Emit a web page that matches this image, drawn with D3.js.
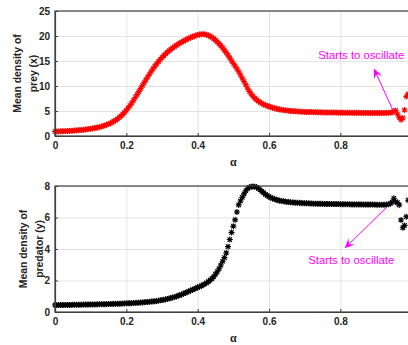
<!DOCTYPE html>
<html>
<head>
<meta charset="utf-8">
<script src="https://cdn.jsdelivr.net/npm/d3@7"></script>
<style>
  body { margin: 0; background: #fff; }
  svg { display: block; }
  text { font-family: "Liberation Sans", Arial, sans-serif; }
</style>
</head>
<body>
<div id="container"></div>
<script>
let w = 408;
let h = 345;

// alpha grid (x values)
let alpha = [
  0.000,0.005,0.010,0.015,0.020,0.025,0.030,0.035,0.040,0.045,
  0.050,0.055,0.060,0.065,0.070,0.075,0.080,0.085,0.090,0.095,
  0.100,0.105,0.110,0.115,0.120,0.125,0.130,0.135,0.140,0.145,
  0.150,0.155,0.160,0.165,0.170,0.175,0.180,0.185,0.190,0.195,
  0.200,0.205,0.210,0.215,0.220,0.225,0.230,0.235,0.240,0.245,
  0.250,0.255,0.260,0.265,0.270,0.275,0.280,0.285,0.290,0.295,
  0.300,0.305,0.310,0.315,0.320,0.325,0.330,0.335,0.340,0.345,
  0.350,0.355,0.360,0.365,0.370,0.375,0.380,0.385,0.390,0.395,
  0.400,0.405,0.410,0.415,0.420,0.425,0.430,0.435,0.440,0.445,
  0.450,0.455,0.460,0.465,0.470,0.475,0.480,0.485,0.490,0.495,
  0.500,0.505,0.510,0.515,0.520,0.525,0.530,0.535,0.540,0.545,
  0.550,0.555,0.560,0.565,0.570,0.575,0.580,0.585,0.590,0.595,
  0.600,0.605,0.610,0.615,0.620,0.625,0.630,0.635,0.640,0.645,
  0.650,0.655,0.660,0.665,0.670,0.675,0.680,0.685,0.690,0.695,
  0.700,0.705,0.710,0.715,0.720,0.725,0.730,0.735,0.740,0.745,
  0.750,0.755,0.760,0.765,0.770,0.775,0.780,0.785,0.790,0.795,
  0.800,0.805,0.810,0.815,0.820,0.825,0.830,0.835,0.840,0.845,
  0.850,0.855,0.860,0.865,0.870,0.875,0.880,0.885,0.890,0.895,
  0.900,0.905,0.910,0.915,0.920,0.925,0.930,0.935,0.940,0.945,
  0.950,0.955,0.960,0.965,0.970,0.975,0.980,0.985,0.990
];

// mean density of prey (x)
let prey = [
  0.90,0.91,0.92,0.93,0.95,0.96,0.98,1.00,1.02,1.04,
  1.06,1.09,1.12,1.15,1.18,1.22,1.26,1.30,1.35,1.40,
  1.45,1.51,1.57,1.64,1.72,1.80,1.90,2.00,2.12,2.25,
  2.39,2.55,2.73,2.93,3.15,3.40,3.68,4.00,4.35,4.73,
  5.15,5.60,6.08,6.60,7.14,7.70,8.28,8.87,9.47,10.07,
  10.67,11.26,11.84,12.40,12.94,13.46,13.96,14.43,14.88,15.30,
  15.70,16.07,16.42,16.75,17.06,17.35,17.62,17.88,18.12,18.35,
  18.57,18.78,18.98,19.17,19.35,19.52,19.68,19.83,19.97,20.10,
  20.22,20.30,20.35,20.36,20.33,20.25,20.12,19.94,19.72,19.46,
  19.16,18.83,18.46,18.06,17.63,17.17,16.68,16.16,15.62,15.05,
  14.50,14.00,13.45,12.85,12.20,11.55,10.90,10.22,9.55,8.92,
  8.40,7.95,7.58,7.25,6.97,6.72,6.50,6.32,6.16,6.02,
  5.90,5.78,5.66,5.56,5.47,5.39,5.32,5.26,5.20,5.15,
  5.10,5.06,5.02,4.99,4.96,4.93,4.90,4.88,4.86,4.84,
  4.82,4.81,4.80,4.79,4.78,4.77,4.76,4.75,4.74,4.73,
  4.72,4.72,4.71,4.70,4.70,4.69,4.69,4.68,4.68,4.67,
  4.67,4.66,4.66,4.65,4.65,4.65,4.64,4.64,4.64,4.63,
  4.63,4.63,4.62,4.62,4.62,4.62,4.61,4.61,4.61,4.61,
  4.61,4.61,4.61,4.61,4.62,4.62,4.63,4.64,4.66,4.72,
  4.95,5.10,4.40,3.70,3.25,3.60,5.20,7.90,8.40
];

// mean density of predator (y)
let predator = [
  0.44,0.44,0.44,0.44,0.44,0.45,0.45,0.45,0.45,0.45,
  0.46,0.46,0.46,0.46,0.46,0.46,0.47,0.47,0.47,0.47,
  0.48,0.48,0.48,0.48,0.49,0.49,0.49,0.50,0.50,0.50,
  0.51,0.51,0.51,0.52,0.52,0.52,0.53,0.53,0.54,0.54,
  0.55,0.55,0.56,0.56,0.57,0.57,0.58,0.59,0.60,0.61,
  0.62,0.63,0.64,0.65,0.66,0.67,0.69,0.70,0.72,0.74,
  0.76,0.78,0.80,0.83,0.86,0.89,0.92,0.95,0.99,1.03,
  1.07,1.11,1.16,1.21,1.26,1.31,1.36,1.41,1.46,1.51,
  1.56,1.61,1.66,1.72,1.78,1.85,1.93,2.02,2.12,2.24,
  2.40,2.56,2.75,2.98,3.22,3.45,3.75,4.15,4.60,5.05,
  5.45,5.85,6.35,6.80,7.05,7.28,7.50,7.70,7.84,7.92,
  7.95,7.97,7.96,7.92,7.85,7.76,7.66,7.56,7.47,7.39,
  7.32,7.26,7.21,7.17,7.13,7.10,7.07,7.05,7.03,7.01,
  6.99,6.98,6.97,6.96,6.95,6.94,6.93,6.93,6.92,6.91,
  6.91,6.90,6.90,6.89,6.89,6.88,6.88,6.88,6.87,6.87,
  6.87,6.86,6.86,6.86,6.86,6.85,6.85,6.85,6.85,6.85,
  6.84,6.84,6.84,6.84,6.84,6.84,6.83,6.83,6.83,6.83,
  6.83,6.83,6.83,6.82,6.82,6.82,6.82,6.82,6.82,6.82,
  6.81,6.81,6.81,6.81,6.81,6.81,6.82,6.84,6.88,6.98,
  7.22,7.00,6.95,6.80,5.84,5.35,5.50,6.05,7.10
];

let xTicks = [0, 0.2, 0.4, 0.6, 0.8];
let preyTicks = [0, 5, 10, 15, 20, 25];
let predTicks = [0, 2, 4, 6, 8];
let noteText = "Starts to oscillate";

// annotation anchors in data units [alpha, value]
let preyNote = { text: [0.738, 16.2], tail: [0.948, 5.06], head: [0.894, 13.5] };
let predNote = { text: [0.710, 3.3], tail: [0.930, 6.65], head: [0.812, 4.04] };

let viz = d3.select("#container").append("svg")
    .attr("width", w)
    .attr("height", h)
;

let axisColor = "#404040";
let gridColor = "#e3e3e3";
let magenta = "#ff00ff";

// MATLAB style '*' marker
let star = "M-3,0H3M0,-3V3M-2.2,-2.2L2.2,2.2M-2.2,2.2L2.2,-2.2";

function panel(opt){
  let x = d3.scaleLinear().domain([0, 1]).range([55, 411.7]);
  let y = d3.scaleLinear().domain(opt.yDomain).range([opt.bottom, opt.top]);
  let g = viz.append("g");

  // grid
  g.append("g")
    .attr("transform", "translate(0," + opt.bottom + ")")
    .call(d3.axisBottom(x).tickValues(xTicks).tickSize(-(opt.bottom - opt.top)).tickFormat(""))
    .call(s => s.select(".domain").remove())
    .selectAll("line").attr("stroke", gridColor);
  g.append("g")
    .attr("transform", "translate(55,0)")
    .call(d3.axisLeft(y).tickValues(opt.yTicks).tickSize(-(411.7 - 55)).tickFormat(""))
    .call(s => s.select(".domain").remove())
    .selectAll("line").attr("stroke", gridColor);

  // data
  g.append("g").selectAll("path").data(alpha).enter()
    .append("path")
      .attr("d", star)
      .attr("transform", (d, i) => "translate(" + x(d) + "," + y(opt.values[i]) + ")")
      .attr("stroke", opt.color)
      .attr("stroke-width", 1.1)
      .attr("fill", "none");

  // box
  g.append("rect")
    .attr("x", 55).attr("y", opt.top)
    .attr("width", 411.7 - 55).attr("height", opt.bottom - opt.top)
    .attr("fill", "none").attr("stroke", axisColor).attr("stroke-width", 1.2);

  // axes with inward ticks
  let fmt = d => d === 0 ? "0" : String(d);
  let xa = g.append("g")
    .attr("transform", "translate(0," + opt.bottom + ")")
    .call(d3.axisBottom(x).tickValues(xTicks).tickSize(-3).tickPadding(5).tickFormat(fmt));
  let ya = g.append("g")
    .attr("transform", "translate(55,0)")
    .call(d3.axisLeft(y).tickValues(opt.yTicks).tickSize(-3).tickPadding(5).tickFormat(fmt));
  [xa, ya].forEach(a => {
    a.select(".domain").attr("stroke", axisColor).attr("stroke-width", 1.2);
    a.selectAll("line").attr("stroke", axisColor);
    a.selectAll("text")
      .attr("fill", "#262626")
      .style("font-size", "10px")
      .style("font-weight", "bold");
  });
  xa.selectAll("text").attr("dy", "0.35em").attr("y", 9);

  // axis labels
  g.append("text")
    .attr("x", x(0.5)).attr("y", opt.bottom + 30)
    .attr("text-anchor", "middle")
    .style("font-family", "'Liberation Serif', serif")
    .style("font-size", "12px")
    .style("font-weight", "bold")
    .attr("fill", "#262626")
    .text("α");
  let mid = (opt.top + opt.bottom) / 2;
  opt.yLabel.forEach((t, i) => {
    g.append("text")
      .attr("transform", "translate(" + opt.labelX[i] + "," + mid + ") rotate(-90)")
      .attr("text-anchor", "middle")
      .attr("dominant-baseline", "central")
      .style("font-size", "10.4px")
      .style("font-weight", "bold")
      .attr("fill", "#262626")
      .text(t);
  });

  // annotation
  let n = opt.note;
  g.append("text")
    .attr("x", x(n.text[0])).attr("y", y(n.text[1]))
    .attr("dominant-baseline", "central")
    .style("font-size", "11.3px")
    .attr("fill", magenta)
    .text(noteText);
  let x1 = x(n.tail[0]), y1 = y(n.tail[1]);
  let x2 = x(n.head[0]), y2 = y(n.head[1]);
  let ang = Math.atan2(y2 - y1, x2 - x1);
  let L = 10, W = 4.5;
  let bx = x2 - L * Math.cos(ang), by = y2 - L * Math.sin(ang);
  let nx = x2 - 0.6 * L * Math.cos(ang), ny = y2 - 0.6 * L * Math.sin(ang);
  let px = -Math.sin(ang), py = Math.cos(ang);
  g.append("line")
    .attr("x1", x1).attr("y1", y1).attr("x2", nx).attr("y2", ny)
    .attr("stroke", magenta).attr("stroke-width", 1);
  g.append("path")
    .attr("d", "M" + x2 + "," + y2 +
      "L" + (bx + W * px) + "," + (by + W * py) +
      "L" + nx + "," + ny +
      "L" + (bx - W * px) + "," + (by - W * py) + "Z")
    .attr("fill", magenta);
}

panel({
  top: 11, bottom: 136, yDomain: [0, 25], yTicks: preyTicks,
  values: prey, color: "#ff0000",
  yLabel: ["Mean density of", "prey (x)"], labelX: [17, 33],
  note: preyNote
});

panel({
  top: 186, bottom: 312, yDomain: [0, 8], yTicks: predTicks,
  values: predator, color: "#000000",
  yLabel: ["Mean density of", "predator (y)"], labelX: [23.5, 39.5],
  note: predNote
});
</script>
</body>
</html>
